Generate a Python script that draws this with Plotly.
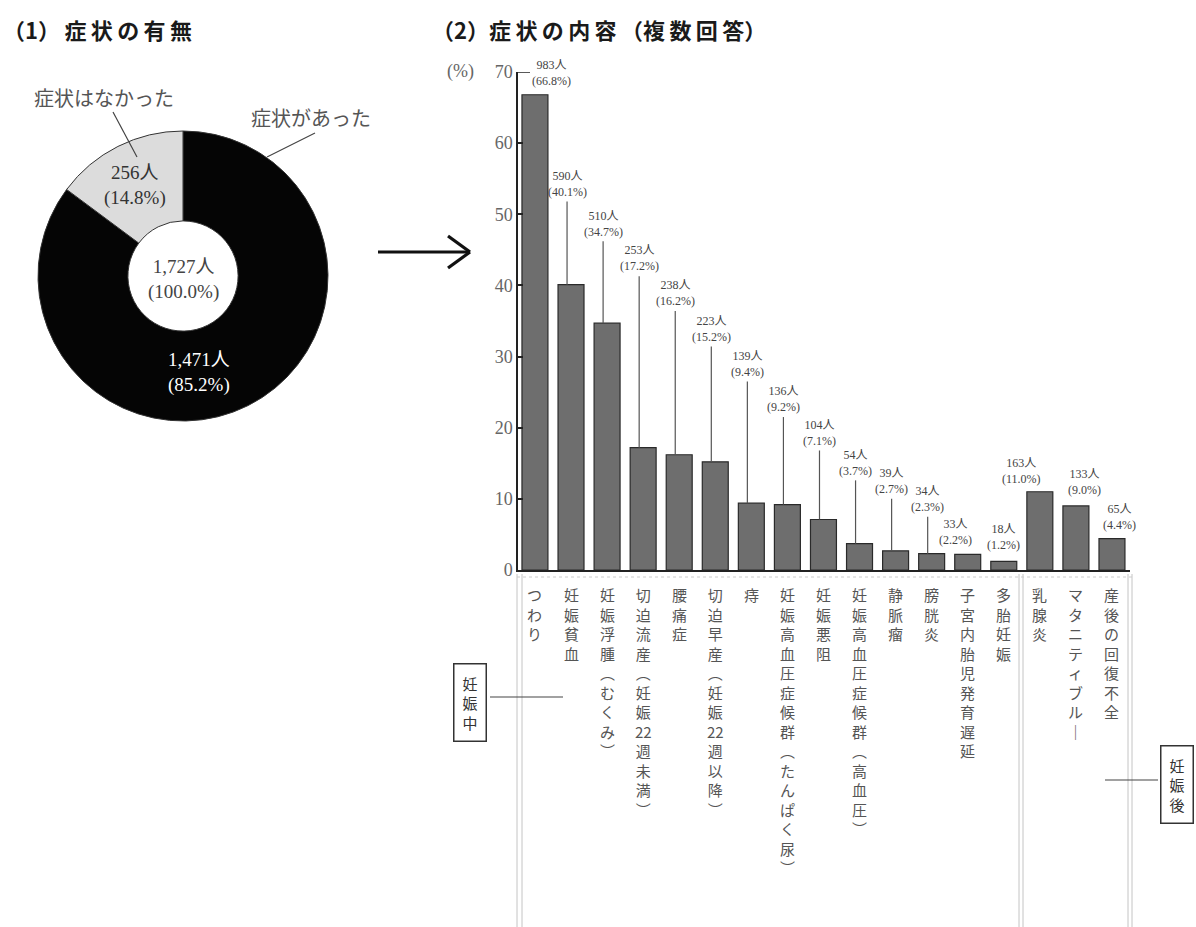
import plotly.graph_objects as go

W, H = 1196, 927

# ---- (1) presence of symptoms --------------------------------------------
pie_labels = ["症状があった", "症状はなかった"]
pie_counts = [1471, 256]
pie_pct = [85.2, 14.8]
total_count = 1727
total_pct = 100.0

# ---- (2) symptom breakdown (multiple answers) ---------------------------
categories = [
    "つわり", "妊娠貧血", "妊娠浮腫（むくみ）", "切迫流産（妊娠22週未満）", "腰痛症",
    "切迫早産（妊娠22週以降）", "痔", "妊娠高血圧症候群（たんぱく尿）", "妊娠悪阻",
    "妊娠高血圧症候群（高血圧）", "静脈瘤", "膀胱炎", "子宮内胎児発育遅延", "多胎妊娠",
    "乳腺炎", "マタニティブルー", "産後の回復不全",
]
counts = [983, 590, 510, 253, 238, 223, 139, 136, 104, 54, 39, 34, 33, 18, 163, 133, 65]
percents = [66.8, 40.1, 34.7, 17.2, 16.2, 15.2, 9.4, 9.2, 7.1, 3.7, 2.7, 2.3, 2.2, 1.2, 11.0, 9.0, 4.4]
y_ticks = [0, 10, 20, 30, 40, 50, 60, 70]

# value-label placement (category offset, label centre height in %, leader line?)
label_dx = [0.47, -0.11, -0.11, -0.11, -0.11, -0.11, -0.11, -0.11, -0.11, -0.11,
            -0.11, -0.11, -0.35, 0.0, -0.5, 0.25, 0.2]
label_y = [69.9, 54.3, 48.7, 43.8, 38.9, 33.9, 29.0, 24.0, 19.3, 15.1, 12.5, 10.0,
           5.3, 4.7, 13.9, 12.4, 7.4]
has_leader = [False] + [True] * 11 + [False] * 5
LEADER_GAP = 2.5

SERIF = "Liberation Serif, Noto Sans CJK JP"
GOTHIC = "Noto Sans CJK JP"
TS = "\u2009"  # thin space used for letter spacing in headings


def px(x):
    return x / W


def py(y):
    return 1 - y / H


VERTICAL_FORMS = {"（": "︵", "）": "︶", "ー": "｜"}


def vertical(text):
    """Stack characters top-to-bottom; runs of digits stay in one cell."""
    cells, i = [], 0
    while i < len(text):
        if text[i].isdigit():
            j = i
            while j < len(text) and text[j].isdigit():
                j += 1
            cells.append(text[i:j])
            i = j
        else:
            cells.append(VERTICAL_FORMS.get(text[i], text[i]))
            i += 1
    return "<br>".join(cells)


def spaced(text):
    return TS.join(text)


fig = go.Figure()

# donut
fig.add_trace(go.Pie(
    values=pie_counts, labels=pie_labels, hole=0.38, sort=False,
    direction="clockwise", rotation=0, textinfo="none", hoverinfo="label+value",
    marker=dict(colors=["#050505", "#dcdcdc"], line=dict(color="#333", width=1)),
    domain=dict(x=[px(38), px(328)], y=[py(421), py(131)]),
    showlegend=False,
))

# bars
fig.add_trace(go.Bar(
    x=list(range(len(categories))), y=percents, width=0.72,
    marker=dict(color="#6e6e6e", line=dict(color="#2a2a2a", width=1.2)),
    hovertext=categories, showlegend=False,
))

annotations = []
shapes = []


def note(text, x, y, size, color, family=GOTHIC, xanchor="center", yanchor="middle", **kw):
    d = dict(text=text, x=x, y=y, xref="paper", yref="paper", xanchor=xanchor,
             yanchor=yanchor, showarrow=False, font=dict(family=family, size=size, color=color))
    d.update(kw)
    annotations.append(d)


# titles
title_font = dict(family=GOTHIC, size=22, color="#1a1a1a", weight="bold")
annotations.append(dict(text="（1）" + TS + spaced("症状の有無"), x=px(1), y=py(29),
                        xref="paper", yref="paper", xanchor="left", yanchor="middle",
                        showarrow=False, font=title_font))
annotations.append(dict(text="（2）" + spaced("症状の内容") + TS + "（" + spaced("複数回答") + "）",
                        x=px(430), y=py(29), xref="paper", yref="paper",
                        xanchor="left", yanchor="middle", showarrow=False, font=title_font))

# donut texts
note(f"{pie_counts[1]}人<br>({pie_pct[1]:.1f}%)", px(135), py(185), 19, "#333", SERIF)
note(f"{total_count:,}人<br>({total_pct:.1f}%)", px(183), py(279), 19, "#444", SERIF)
note(f"{pie_counts[0]:,}人<br>({pie_pct[0]:.1f}%)", px(199), py(372), 19, "#ffffff", SERIF)
note(pie_labels[1], px(104), py(97), 20, "#555")
note(pie_labels[0], px(311), py(118), 20, "#555")

shapes += [
    dict(type="line", xref="paper", yref="paper", x0=px(113), y0=py(112), x1=px(137), y1=py(157),
         line=dict(color="#444", width=1.2)),
    dict(type="line", xref="paper", yref="paper", x0=px(315), y0=py(133), x1=px(267), y1=py(157),
         line=dict(color="#444", width=1.2)),
]

# arrow between panels
for (x0, y0, x1, y1) in [(378, 252, 469, 252), (448, 236, 470, 252), (448, 268, 470, 252)]:
    shapes.append(dict(type="line", xref="paper", yref="paper",
                       x0=px(x0), y0=py(y0), x1=px(x1), y1=py(y1),
                       line=dict(color="#111", width=3.2)))

# "(%)" unit
note("(%)", px(460), py(72), 18, "#666", SERIF)

# value labels with leader lines
for i, (c, p) in enumerate(zip(counts, percents)):
    lx = i + label_dx[i]
    annotations.append(dict(text=f"{c}人<br>({p:.1f}%)", x=lx, y=label_y[i], xref="x", yref="y",
                            xanchor="center", yanchor="middle", showarrow=False,
                            font=dict(family=SERIF, size=12, color="#444")))
    if has_leader[i]:
        shapes.append(dict(type="line", xref="x", yref="y", x0=lx, x1=lx,
                           y0=p, y1=label_y[i] - LEADER_GAP,
                           line=dict(color="#555", width=1.2)))
shapes.append(dict(type="line", xref="paper", yref="y", x0=px(517), x1=px(530), y0=70, y1=70,
                   line=dict(color="#222", width=1.5)))

# category names, written vertically
for i, name in enumerate(categories):
    annotations.append(dict(text=vertical(name), x=i, y=py(582), xref="x", yref="paper",
                            xanchor="center", yanchor="top", showarrow=False, align="center",
                            font=dict(family=GOTHIC, size=15, color="#555")))

# frame of the category area
for xv in [517, 522, 1019, 1023, 1128, 1132]:
    shapes.append(dict(type="line", xref="paper", yref="paper", x0=px(xv), x1=px(xv),
                       y0=py(574), y1=py(927), line=dict(color="#c4c4c4", width=1)))
shapes.append(dict(type="line", xref="paper", yref="paper", x0=px(517), x1=px(1132),
                   y0=py(577), y1=py(577), line=dict(color="#cccccc", width=1, dash="dot")))

# period brackets
note("妊<br>娠<br>中", px(470), py(702), 15, "#333", bordercolor="#333", borderwidth=1.5, borderpad=8)
shapes.append(dict(type="line", xref="paper", yref="paper", x0=px(490), x1=px(563),
                   y0=py(697), y1=py(697), line=dict(color="#444", width=1.2)))
note("妊<br>娠<br>後", px(1177), py(784), 15, "#333", bordercolor="#333", borderwidth=1.5, borderpad=8)
shapes.append(dict(type="line", xref="paper", yref="paper", x0=px(1105), x1=px(1158),
                   y0=py(780), y1=py(780), line=dict(color="#444", width=1.2)))

fig.update_layout(
    width=W, height=H, margin=dict(l=0, r=0, t=0, b=0, autoexpand=False),
    paper_bgcolor="white", plot_bgcolor="white",
    xaxis=dict(domain=[px(518), px(1130)], range=[-0.47, 16.5], showline=True,
               linecolor="#222", linewidth=2, showticklabels=False, ticks="",
               showgrid=False, zeroline=False, automargin=False),
    yaxis=dict(domain=[py(570), py(72)], range=[0, 70], showline=True, linecolor="#222",
               linewidth=1.5, ticks="inside", ticklen=5, tickwidth=1.5, tickcolor="#222",
               tickvals=y_ticks, tickfont=dict(family=SERIF, size=18, color="#666"),
               showgrid=False, zeroline=False, automargin=False),
    annotations=annotations, shapes=shapes, bargap=0.28,
)

fig.write_html("out.html")
